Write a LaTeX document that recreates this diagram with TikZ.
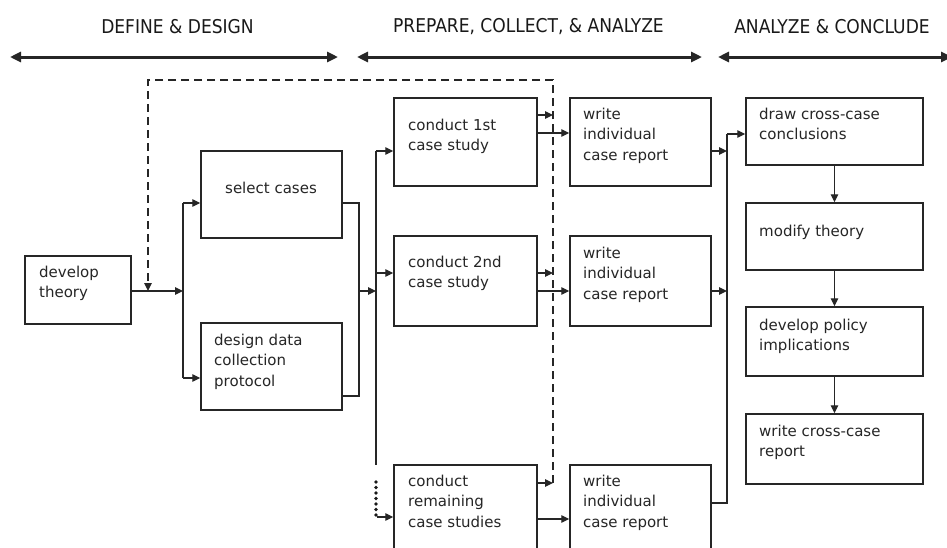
\documentclass[tikz,border=0pt]{standalone}
\usepackage{fontspec}
\setmainfont{DejaVu Sans}
\newfontfamily\hdrfont{DejaVu Sans Condensed}
\usetikzlibrary{arrows.meta}
\newcommand{\bx}[6][]{\node[box,#1, minimum width={#4-#2}, minimum height={#5-#3}] (#6) at ({(#2+#4)/2},{(#3+#5)/2}) {};}
\begin{document}
\begin{tikzpicture}[x=1pt,y=-1pt,
  box/.style={draw=black!85, line width=1.5pt, inner sep=0pt, fill=white},
  txt/.style={anchor=north west, inner sep=0pt, align=left, text=black!85, font=\fontsize{15}{20.5}\selectfont},
  conn/.style={draw=black!85, line width=1.2pt},
  arr/.style={conn, -{Triangle[length=8pt,width=7.5pt]}},
  hdr/.style={font=\hdrfont\fontsize{19}{22}\selectfont, text=black!90, inner sep=0pt},
  hspan/.style={line width=3pt, draw=black!85, {Triangle[length=11pt,width=10pt]}-{Triangle[length=11pt,width=10pt]}},
  dashline/.style={draw=black!85, line width=1.4pt, dash pattern=on 8pt off 5pt},
  dotline/.style={draw=black!90, line width=3.6pt, line cap=round, dash pattern=on 0pt off 5.5pt}
]
\fill[white] (0,0) rectangle (947,547);
\useasboundingbox (0,0) rectangle (947,547);

% headers
\node[hdr] (h1) at (177.5,27) {DEFINE \& DESIGN};
\node[hdr] (h2) at (528.5,27) {PREPARE, COLLECT, \& ANALYZE};
\node[hdr] (h3) at (832,27) {ANALYZE \& CONCLUDE};
\coordinate (h1a) at (10,57); \coordinate (h1b) at (338,57);
\coordinate (h2a) at (357,57); \coordinate (h2b) at (702,57);
\coordinate (h3a) at (718,57); \coordinate (h3b) at (952,57);
\draw[hspan] (h1a) -- (h1b);
\draw[hspan] (h2a) -- (h2b);
\draw[hspan] (h3a) -- (h3b);

% boxes
\bx{25}{256}{131}{324}{dev}
\bx{201}{151}{342}{238}{sel}
\bx{201}{323}{342}{410}{des}
\bx{394}{98}{537}{186}{c1}
\bx{394}{236}{537}{326}{c2}
\bx{394}{465}{537}{570}{c3}
\bx{570}{98}{711}{186}{w1}
\bx{570}{236}{711}{326}{w2}
\bx{570}{465}{711}{570}{w3}
\bx{746}{98}{923}{165}{drw}
\bx{746}{203}{923}{270}{mod}
\bx{746}{307}{923}{376}{pol}
\bx{746}{414}{923}{484}{wcc}

% texts
\node[txt] (dev-t) at (39,265.1) {\rule{0pt}{12pt}develop\\theory};
\node[txt] (sel-t) at (225,181.1) {\rule{0pt}{12pt}select cases};
\node[txt] (des-t) at (214,333.1) {\rule{0pt}{12pt}design data\\collection\\protocol};
\node[txt] (c1-t) at (408,118.1) {\rule{0pt}{12pt}conduct 1st\\case study};
\node[txt] (c2-t) at (408,255.1) {\rule{0pt}{12pt}conduct 2nd\\case study};
\node[txt] (c3-t) at (408,474.1) {\rule{0pt}{12pt}conduct\\remaining\\case studies};
\node[txt] (w1-t) at (583,107.1) {\rule{0pt}{12pt}write\\individual\\case report};
\node[txt] (w2-t) at (583,246.1) {\rule{0pt}{12pt}write\\individual\\case report};
\node[txt] (w3-t) at (583,474.1) {\rule{0pt}{12pt}write\\individual\\case report};
\node[txt] (drw-t) at (759,107.1) {\rule{0pt}{12pt}draw cross-case\\conclusions};
\node[txt] (mod-t) at (759,224.1) {\rule{0pt}{12pt}modify theory};
\node[txt] (pol-t) at (759,318.1) {\rule{0pt}{12pt}develop policy\\implications};
\node[txt] (wcc-t) at (759,424.1) {\rule{0pt}{12pt}write cross-case\\report};

% junction coordinates
\coordinate (j1) at (183,291); \coordinate (j1t) at (183,203); \coordinate (j1b) at (183,378);
\coordinate (j2) at (359,291); \coordinate (j2t) at (359,203); \coordinate (j2b) at (359,396);
\coordinate (j3) at (376,291); \coordinate (j3t) at (376,151); \coordinate (j3m) at (376,273); \coordinate (j3b) at (376,465);
\coordinate (d1) at (376,482); \coordinate (d2) at (376,515); \coordinate (d3) at (377,517);
\coordinate (k1) at (553,483); \coordinate (k2) at (553,80); \coordinate (k3) at (148,80); \coordinate (k4) at (148,291);
\coordinate (ka) at (553,115); \coordinate (kb) at (553,273);
\coordinate (m0) at (727,134); \coordinate (m1) at (727,151); \coordinate (m2) at (727,291); \coordinate (m3) at (727,503);

% define & design connectors
\draw[arr] (dev.east|-j1) -- (j1);
\draw[conn] (j1t) -- (j1b);
\draw[arr] (j1t) -- (sel.west|-j1t);
\draw[arr] (j1b) -- (des.west|-j1b);
\draw[conn] (sel.east|-j2t) -- (j2t) -- (j2b) -- (des.east|-j2b);
\draw[arr] (j2) -- (j3);
\draw[conn] (j3t) -- (j3b);
\draw[arr] (j3t) -- (c1.west|-j3t);
\draw[arr] (j3m) -- (c2.west|-j3m);
\draw[dotline] (d1) -- (d2);
\draw[arr] (d3) -- (c3.west|-d3);

% dashed feedback
\draw[dashline, -{Triangle[length=8pt,width=7.5pt]}] (k1) -- (k2) -- (k3) -- (k4);
\draw[arr] (c1.east|-ka) -- (ka);
\draw[arr] (c2.east|-kb) -- (kb);
\draw[arr] (c3.east|-k1) -- (k1);

% case study -> report
\draw[arr] ([yshift=9pt]c1.east) -- ([yshift=9pt]w1.west);
\draw[arr] ([yshift=-10pt]c2.east) -- ([yshift=-10pt]w2.west);
\draw[arr] ([yshift=-1.5pt]c3.east) -- ([yshift=-1.5pt]w3.west);

% reports -> cross-case
\draw[arr] (w1.east|-m1) -- (m1);
\draw[arr] (w2.east|-m2) -- (m2);
\draw[conn] (w3.east|-m3) -- (m3) -- (m0);
\draw[arr] (m0) -- (drw.west|-m0);
\draw[arr] (drw.south) -- (mod.north);
\draw[arr] (mod.south) -- (pol.north);
\draw[arr] (pol.south) -- (wcc.north);
\end{tikzpicture}
\end{document}
